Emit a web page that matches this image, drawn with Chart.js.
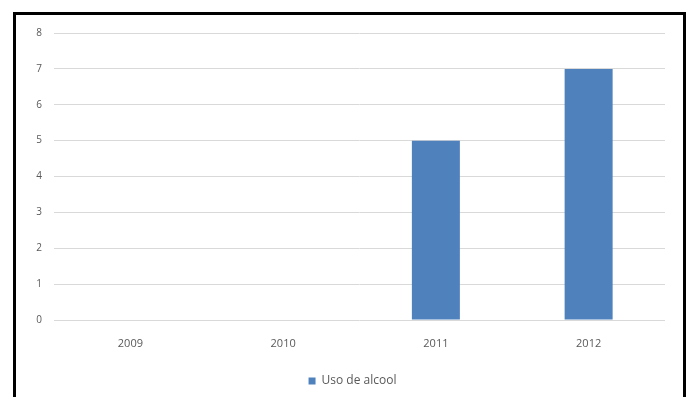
<!DOCTYPE html>
<html>
<head>
<meta charset="utf-8">
<script src="https://cdn.jsdelivr.net/npm/chart.js@4/dist/chart.umd.min.js"></script>
<style>
html,body{margin:0;padding:0;background:#fff;}
#wrap{position:relative;width:689px;height:397px;overflow:hidden;}
#frame{position:absolute;left:13px;top:12px;width:667px;height:420px;border:3px solid #000;pointer-events:none;}
canvas{position:absolute;left:0;top:0;}
</style>
</head>
<body>
<div id="wrap">
<canvas id="c" width="689" height="397"></canvas>
<div id="frame"></div>
</div>
<script>
const categories = ['2009', '2010', '2011', '2012'];
const seriesName = 'Uso de alcool';
const values = [0, 0, 5, 7];
const yTicks = [0, 1, 2, 3, 4, 5, 6, 7, 8];

const textColor = '#595959';
const barColor = '#4F81BD';

const legendShift = {
  id: 'legendShift',
  afterLayout(chart) {
    const l = chart.legend;
    if (l) { l.left += 20; l.right += 20; }
  }
};

new Chart(document.getElementById('c'), {
  type: 'bar',
  data: {
    labels: categories,
    datasets: [{
      label: seriesName,
      data: values,
      backgroundColor: barColor,
      borderWidth: 0,
      inflateAmount: 0,
      barThickness: 48
    }]
  },
  options: {
    responsive: false,
    animation: false,
    devicePixelRatio: 1,
    layout: { padding: { left: 0, right: 24, top: 33, bottom: 0 } },
    plugins: {
      tooltip: { enabled: false },
      legend: {
        position: 'bottom',
        labels: {
          color: textColor,
          font: { family: 'Open Sans', size: 12 },
          boxWidth: 7,
          boxHeight: 7,
          padding: 10
        }
      }
    },
    scales: {
      x: {
        grid: { display: false, drawTicks: false },
        border: { display: false },
        ticks: { color: textColor, font: { family: 'Open Sans', size: 11 }, padding: 17, maxRotation: 0 },
        afterFit: s => { s.height = 45; }
      },
      y: {
        min: 0, max: 8,
        afterBuildTicks: s => { s.ticks = yTicks.map(v => ({ value: v })); },
        grid: { color: '#D9D9D9', lineWidth: 1, drawTicks: false },
        border: { display: false },
        ticks: { color: textColor, font: { family: 'Open Sans', size: 10 }, padding: 12 },
        afterFit: s => { s.width = 54; }
      }
    }
  },
  plugins: [legendShift]
});
</script>
</body>
</html>
